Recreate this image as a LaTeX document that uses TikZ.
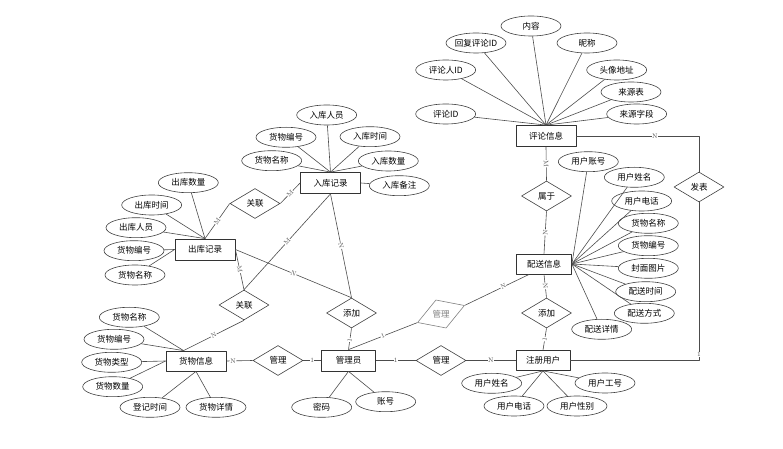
\documentclass[tikz,border=0pt]{standalone}
\usepackage{fontspec}
\newfontfamily\cjk{Noto Sans CJK SC}
\usetikzlibrary{shapes.geometric}
\begin{document}
\begin{tikzpicture}[line join=bevel,
  every node/.style={font=\cjk\fontsize{8.5bp}{10bp}\selectfont},
  entity/.style={rectangle,draw=black!80,line width=0.8bp,minimum width=60bp,minimum height=21bp,inner sep=1bp},
  attr/.style={ellipse,draw=black!75,line width=0.6bp,minimum width=60bp,minimum height=20bp,inner sep=0bp},
  relation/.style={diamond,draw=black!75,line width=0.6bp,aspect=1.67,minimum width=50bp,minimum height=30bp,inner sep=0bp},
  link/.style={black!70,line width=0.6bp},
  card/.style={font=\fontsize{6.5bp}{7bp}\selectfont,fill=white,inner sep=0.3bp,sloped},
]
\useasboundingbox (0bp,0bp) rectangle (783bp,449bp);
%%
\node (plxx) at (546bp,313bp) [entity] {评论信息};
  \node (psxx) at (544bp,185bp) [entity,minimum width=55bp,minimum height=20bp] {配送信息};
  \node (zcyh) at (543bp,88.5bp) [entity,minimum width=54bp,minimum height=20bp] {注册用户};
  \node (gly) at (348.5bp,88.5bp) [entity,minimum width=54bp] {管理员};
  \node (hwxx) at (196bp,88bp) [entity,minimum height=20bp] {货物信息};
  \node (ckjl) at (205bp,199.5bp) [entity] {出库记录};
  \node (rkjl) at (330.5bp,266bp) [entity] {入库记录};
%
\node (fb) at (699bp,262bp) [relation] {发表};
  \node (sy) at (546.5bp,253bp) [relation] {属于};
  \node (tj2) at (546.5bp,136bp) [relation] {添加};
  \node (gl2) at (441bp,88.5bp) [relation] {管理};
  \node (gl1) at (278bp,88.5bp) [relation] {管理};
  \node (tj1) at (351.5bp,136bp) [relation] {添加};
  \node (gl3) at (441bp,135bp) [relation,draw=black!50,rotate=20] {};
  \node (gl3*text) at (gl3) [text=black!50] {管理};
  \node (gll1) at (255bp,245.5bp) [relation] {关联};
  \node (gll2) at (244bp,144bp) [relation] {关联};
%
\node (plxx*neirong) at (531bp,423bp) [attr] {内容};
  \node (plxx*huifu) at (476bp,406bp) [attr] {回复评论ID};
  \node (plxx*nicheng) at (587bp,406bp) [attr] {昵称};
  \node (plxx*plr) at (445.7bp,379bp) [attr] {评论人ID};
  \node (plxx*touxiang) at (616.7bp,379bp) [attr] {头像地址};
  \node (plxx*lyb) at (631bp,357bp) [attr] {来源表};
  \node (plxx*plid) at (445.7bp,335bp) [attr] {评论ID};
  \node (plxx*lyzd) at (636.7bp,335bp) [attr] {来源字段};
%
\node (psxx*yhzh) at (588.3bp,287.3bp) [attr] {用户账号};
  \node (psxx*yhxm) at (634.3bp,271.7bp) [attr] {用户姓名};
  \node (psxx*yhdh) at (641.7bp,248bp) [attr] {用户电话};
  \node (psxx*hwmc) at (648.3bp,225.7bp) [attr] {货物名称};
  \node (psxx*hwbh) at (648.3bp,203.3bp) [attr] {货物编号};
  \node (psxx*fmtp) at (648.3bp,180.7bp) [attr] {封面图片};
  \node (psxx*pssj) at (645.7bp,157.3bp) [attr] {配送时间};
  \node (psxx*psfs) at (644.3bp,135.7bp) [attr] {配送方式};
  \node (psxx*psxq) at (601.7bp,119.7bp) [attr] {配送详情};
%
\node (zcyh*yhxm) at (491.7bp,65.7bp) [attr] {用户姓名};
  \node (zcyh*yhgh) at (605bp,66bp) [attr] {用户工号};
  \node (zcyh*yhdh) at (514bp,43bp) [attr] {用户电话};
  \node (zcyh*yhxb) at (577bp,43bp) [attr] {用户性别};
  \node (gly*mima) at (321.7bp,41.7bp) [attr] {密码};
  \node (gly*zhanghao) at (385.7bp,47.3bp) [attr] {账号};
%
\node (hwxx*hwmc) at (129.3bp,131.7bp) [attr] {货物名称};
  \node (hwxx*hwbh) at (114bp,109.7bp) [attr] {货物编号};
  \node (hwxx*hwlx) at (111.7bp,86.7bp) [attr] {货物类型};
  \node (hwxx*hwsl) at (112.7bp,62.3bp) [attr] {货物数量};
  \node (hwxx*djsj) at (150bp,41.7bp) [attr] {登记时间};
  \node (hwxx*hwxq) at (216bp,41.7bp) [attr] {货物详情};
%
\node (ckjl*cksl) at (188.3bp,266.3bp) [attr] {出库数量};
  \node (ckjl*cksj) at (151.7bp,244bp) [attr] {出库时间};
  \node (ckjl*ckry) at (136bp,221.3bp) [attr] {出库人员};
  \node (ckjl*hwbh) at (134bp,198.3bp) [attr] {货物编号};
  \node (ckjl*hwmc) at (135bp,174bp) [attr] {货物名称};
  \node (rkjl*rkry) at (326.7bp,334bp) [attr] {入库人员};
  \node (rkjl*hwbh) at (286bp,311.7bp) [attr] {货物编号};
  \node (rkjl*rksj) at (370bp,312.3bp) [attr] {入库时间};
  \node (rkjl*hwmc) at (271.7bp,288.3bp) [attr] {货物名称};
  \node (rkjl*rksl) at (388.3bp,288bp) [attr] {入库数量};
  \node (rkjl*rkbz) at (399.3bp,263.3bp) [attr] {入库备注};
%% attributes
\foreach \a in {neirong,huifu,nicheng,plr,touxiang,lyb,plid,lyzd}
  \draw [link] (plxx*\a) -- (plxx.north);
\foreach \a in {yhzh,yhxm,yhdh,hwmc,hwbh,fmtp,pssj,psfs,psxq}
  \draw [link] (psxx*\a) -- (psxx.east);
\foreach \a in {yhxm,yhgh,yhdh,yhxb}
  \draw [link] (zcyh*\a) -- (zcyh.south);
\foreach \a in {mima,zhanghao}
  \draw [link] (gly*\a) -- (gly.south);
\draw [link] (hwxx*hwmc) -- (hwxx.140);
  \draw [link] (hwxx*hwbh) -- (hwxx.140);
  \draw [link] (hwxx*hwlx) -- (hwxx.west);
  \draw [link] (hwxx*hwsl) -- (hwxx.west);
  \draw [link] (hwxx*djsj) -- (hwxx.south);
  \draw [link] (hwxx*hwxq) -- (hwxx.south);
\foreach \a in {cksl,cksj,ckry}
  \draw [link] (ckjl*\a) -- (ckjl.north);
\draw [link] (ckjl*hwbh) -- (ckjl.west);
  \draw [link] (ckjl*hwmc) -- (ckjl.west);
\foreach \a in {rkry,hwbh,rksj,hwmc,rksl}
  \draw [link] (rkjl*\a) -- (rkjl.north);
\draw [link] (rkjl*rkbz) -- (rkjl.east);
%% relations
\draw [link] (plxx.east) -| node[card,sloped=false,pos=0.32] {N} (fb.north);
  \draw [link] (fb.south) |- node[card,sloped=false,pos=0.48] {1} (zcyh.east);
  \draw [link] (plxx.south) -- node[card] {M} (sy.north);
  \draw [link] (sy.south) -- node[card] {N} (psxx.north);
  \draw [link] (psxx.south) -- node[card] {N} (tj2.north);
  \draw [link] (tj2.south) -- node[card] {1} (zcyh.north);
  \draw [link] (gl2.east) -- node[card] {N} (zcyh.west);
  \draw [link] (gly.east) -- node[card] {1} (gl2.west);
  \draw [link] (gl1.east) -- node[card] {1} (gly.west);
  \draw [link] (hwxx.east) -- node[card,pos=0.25] {N} (gl1.west);
  \draw [link] (tj1.south) -- node[card,pos=0.55] {1} (gly.north);
  \draw [link] (gly.north) -- node[card] {1} (gl3.west);
  \draw [link] (gl3.east) -- node[card,pos=0.6] {N} (psxx.215);
  \draw [link] (hwxx.140) -- node[card] {N} (gll2.south);
  \draw [link] (ckjl.north) -- node[card] {M} (gll1.west);
  \draw [link] (gll1.east) -- node[card] {M} (rkjl.west);
  \draw [link] (ckjl.east) -- node[card] {M} (gll2.north);
  \draw [link] (rkjl.south) -- node[card] {M} (gll2.north);
  \draw [link] (rkjl.south) -- node[card] {N} (tj1.north);
  \draw [link] (ckjl.east) -- node[card] {N} (tj1.north);
%
\end{tikzpicture}
\end{document}
